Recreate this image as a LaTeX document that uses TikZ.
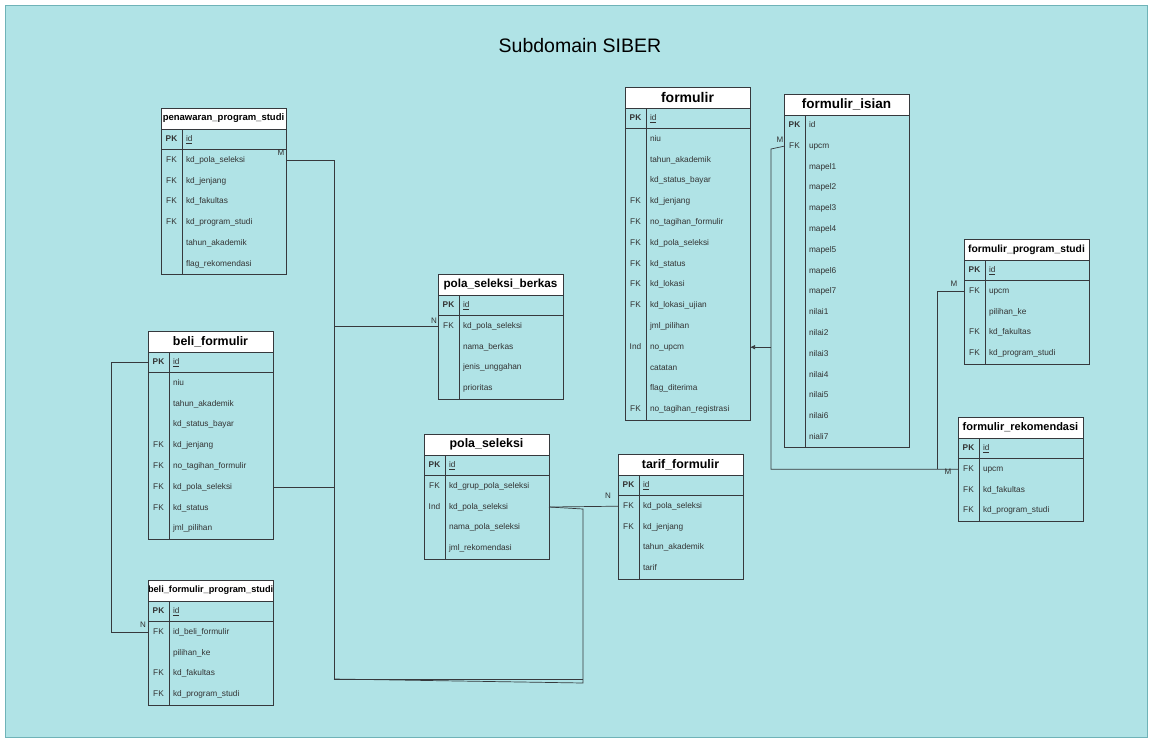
\documentclass[tikz,border=0pt]{standalone}
\usepackage{fontspec}
\setmainfont{Liberation Sans}
\usetikzlibrary{positioning, calc, arrows.meta}

\definecolor{bgcyan}{HTML}{B0E3E6}
\definecolor{bgedge}{HTML}{6FB3B8}
\definecolor{erdark}{HTML}{36393D}

% table: [sep|nosep]{name}{north west}{title size}{title}{key/field rows}
\newcommand{\ertable}[6][sep]{%
  \node[erhead, font=\bfseries\fontsize{#4}{#4}\selectfont] (#2) at #3 {#5};
  \foreach [count=\i] \k/\f in {#6} {
    \node[erkey] (#2-k\i) at ($(#2.south west)+(0,{(\i-1)*20.8})$) {\k};
    \node[erfield, right=0pt of #2-k\i] (#2-\i) {\f};
    \xdef\erlast{\i}
  }
  \draw[erline] (#2.north west) rectangle (#2-\erlast.south east);
  \draw[erline] (#2-k1.north east) -- (#2-k\erlast.south east);
  \def\ertmp{#1}\def\ersep{sep}%
  \ifx\ertmp\ersep \draw[erline] (#2-k1.south west) -- (#2-1.south east);\fi
}

\begin{document}
\begin{tikzpicture}[
  x=1pt, y=-1pt,
  % ── Style definitions ──
  erhead/.style={
    rectangle, anchor=north west, fill=white, draw=erdark,
    minimum width=125pt, minimum height=21pt, inner sep=0pt, outer sep=0pt
  },
  erkey/.style={
    rectangle, anchor=north west, minimum width=21pt, minimum height=20.8pt,
    inner sep=0pt, outer sep=0pt, text height=6pt, text depth=2pt,
    text=black!80, font=\fontsize{8.3}{10}\selectfont
  },
  erfield/.style={
    rectangle, minimum height=20.8pt, inner xsep=4pt, inner ysep=0pt,
    outer sep=0pt, text width=96pt, align=left, text height=6pt, text depth=2pt,
    text=black!80, font=\fontsize{8.3}{10}\selectfont
  },
  erline/.style={draw=erdark, line width=0.7pt},
  rel/.style   ={draw=erdark, line width=0.7pt},
  relarr/.style={rel, -{Latex[length=5pt, width=4.5pt]}},
  lbl/.style   ={font=\fontsize{8}{9}\selectfont, text=black!80, inner sep=0pt}
]
% ─────────── Background ──────────────────────────────────────
\fill[white] (0,0) rectangle (1152,742);
\draw[fill=bgcyan, draw=bgedge] (5.5,5.5) rectangle (1147,737);
\node[font=\fontsize{19.5}{22}\selectfont] (title) at (580,46) {Subdomain SIBER};

% ─────────── Tables ──────────────────────────────────────────
\ertable{pps}{(161,108)}{9.5}{penawaran\_program\_studi}{\textbf{PK}/\underline{id},
  FK/kd\_pola\_seleksi, FK/kd\_jenjang, FK/kd\_fakultas, FK/kd\_program\_studi,
  {}/tahun\_akademik, {}/flag\_rekomendasi}

\ertable{bf}{(148,331)}{12.4}{beli\_formulir}{\textbf{PK}/\underline{id},
  {}/niu, {}/tahun\_akademik, {}/kd\_status\_bayar, FK/kd\_jenjang,
  FK/no\_tagihan\_formulir, FK/kd\_pola\_seleksi, FK/kd\_status, {}/jml\_pilihan}

\ertable{bfps}{(148,580)}{9.2}{beli\_formulir\_program\_studi}{\textbf{PK}/\underline{id},
  FK/id\_beli\_formulir, {}/pilihan\_ke, FK/kd\_fakultas, FK/kd\_program\_studi}

\ertable{psb}{(438,274)}{11.7}{pola\_seleksi\_berkas}{\textbf{PK}/\underline{id},
  FK/kd\_pola\_seleksi, {}/nama\_berkas, {}/jenis\_unggahan, {}/prioritas}

\ertable{ps}{(424,434)}{12.4}{pola\_seleksi}{\textbf{PK}/\underline{id},
  FK/kd\_grup\_pola\_seleksi, Ind/kd\_pola\_seleksi, {}/nama\_pola\_seleksi,
  {}/jml\_rekomendasi}

\ertable{tf}{(618,454)}{12.4}{tarif\_formulir}{\textbf{PK}/\underline{id},
  FK/kd\_pola\_seleksi, FK/kd\_jenjang, {}/tahun\_akademik, {}/tarif}

\ertable{fm}{(625,87)}{14}{formulir}{\textbf{PK}/\underline{id},
  {}/niu, {}/tahun\_akademik, {}/kd\_status\_bayar, FK/kd\_jenjang,
  FK/no\_tagihan\_formulir, FK/kd\_pola\_seleksi, FK/kd\_status, FK/kd\_lokasi,
  FK/kd\_lokasi\_ujian, {}/jml\_pilihan, Ind/no\_upcm, {}/catatan,
  {}/flag\_diterima, FK/no\_tagihan\_registrasi}

\ertable[nosep]{fi}{(784,94)}{13.5}{formulir\_isian}{\textbf{PK}/id,
  FK/upcm, {}/mapel1, {}/mapel2, {}/mapel3, {}/mapel4, {}/mapel5, {}/mapel6,
  {}/mapel7, {}/nilai1, {}/nilai2, {}/nilai3, {}/nilai4, {}/nilai5, {}/nilai6,
  {}/niali7}

\ertable{fps}{(964,239)}{10.3}{formulir\_program\_studi}{\textbf{PK}/\underline{id},
  FK/upcm, {}/pilihan\_ke, FK/kd\_fakultas, FK/kd\_program\_studi}

\ertable{fr}{(958,417)}{11}{formulir\_rekomendasi}{\textbf{PK}/\underline{id},
  FK/upcm, FK/kd\_fakultas, FK/kd\_program\_studi}

% ─────────── Bend points ─────────────────────────────────────
\coordinate (busx)    at (334,0);
\coordinate (bus-bot) at (334,679);
\coordinate (bus-end) at (583,679);
\coordinate (ps-kink) at (583,509);
\coordinate (ps-down) at (583,683);
\coordinate (bf-loop) at (111,0);
\coordinate (fi-kink) at (771,149);
\coordinate (fps-x)   at (937,0);

% ─────────── Relations: pola seleksi ─────────────────────────
\draw[rel] (pps-2.east) -| (bus-bot) -- (bus-end);
\draw[rel] (ps-3.east) -- (ps-kink) -- (ps-down) -- (bus-bot);
\draw[rel] (psb-k2.west) -- (psb-k2.west -| busx);
\draw[rel] (bf-7.east) -- (bf-7.east -| busx);
\draw[rel] (ps-3.east) -- (tf-k2.west);

% ─────────── Relations: beli formulir ────────────────────────
\draw[rel] (bf-k1.west) -- (bf-k1.west -| bf-loop) |- (bfps-k2.west);

% ─────────── Relations: formulir / upcm ──────────────────────
\draw[rel] (fi-k2.west) -- (fi-kink) |- (fr-k2.west);
\draw[rel] (fps-k2.west) -| (fps-x |- fr-k2.west);
\draw[relarr] (fi-kink |- fm-12.east) -- (fm-12.east);

% ─────────── Cardinality labels ──────────────────────────────
\node[lbl] (m-pps)  at (281,153) {M};
\node[lbl] (n-psb)  at (434,321) {N};
\node[lbl] (n-bfps) at (143,625) {N};
\node[lbl] (n-tf)   at (608,496) {N};
\node[lbl] (m-fi)   at (780,140) {M};
\node[lbl] (m-fps)  at (954,284) {M};
\node[lbl] (m-fr)   at (948,472) {M};
\end{tikzpicture}
\end{document}
